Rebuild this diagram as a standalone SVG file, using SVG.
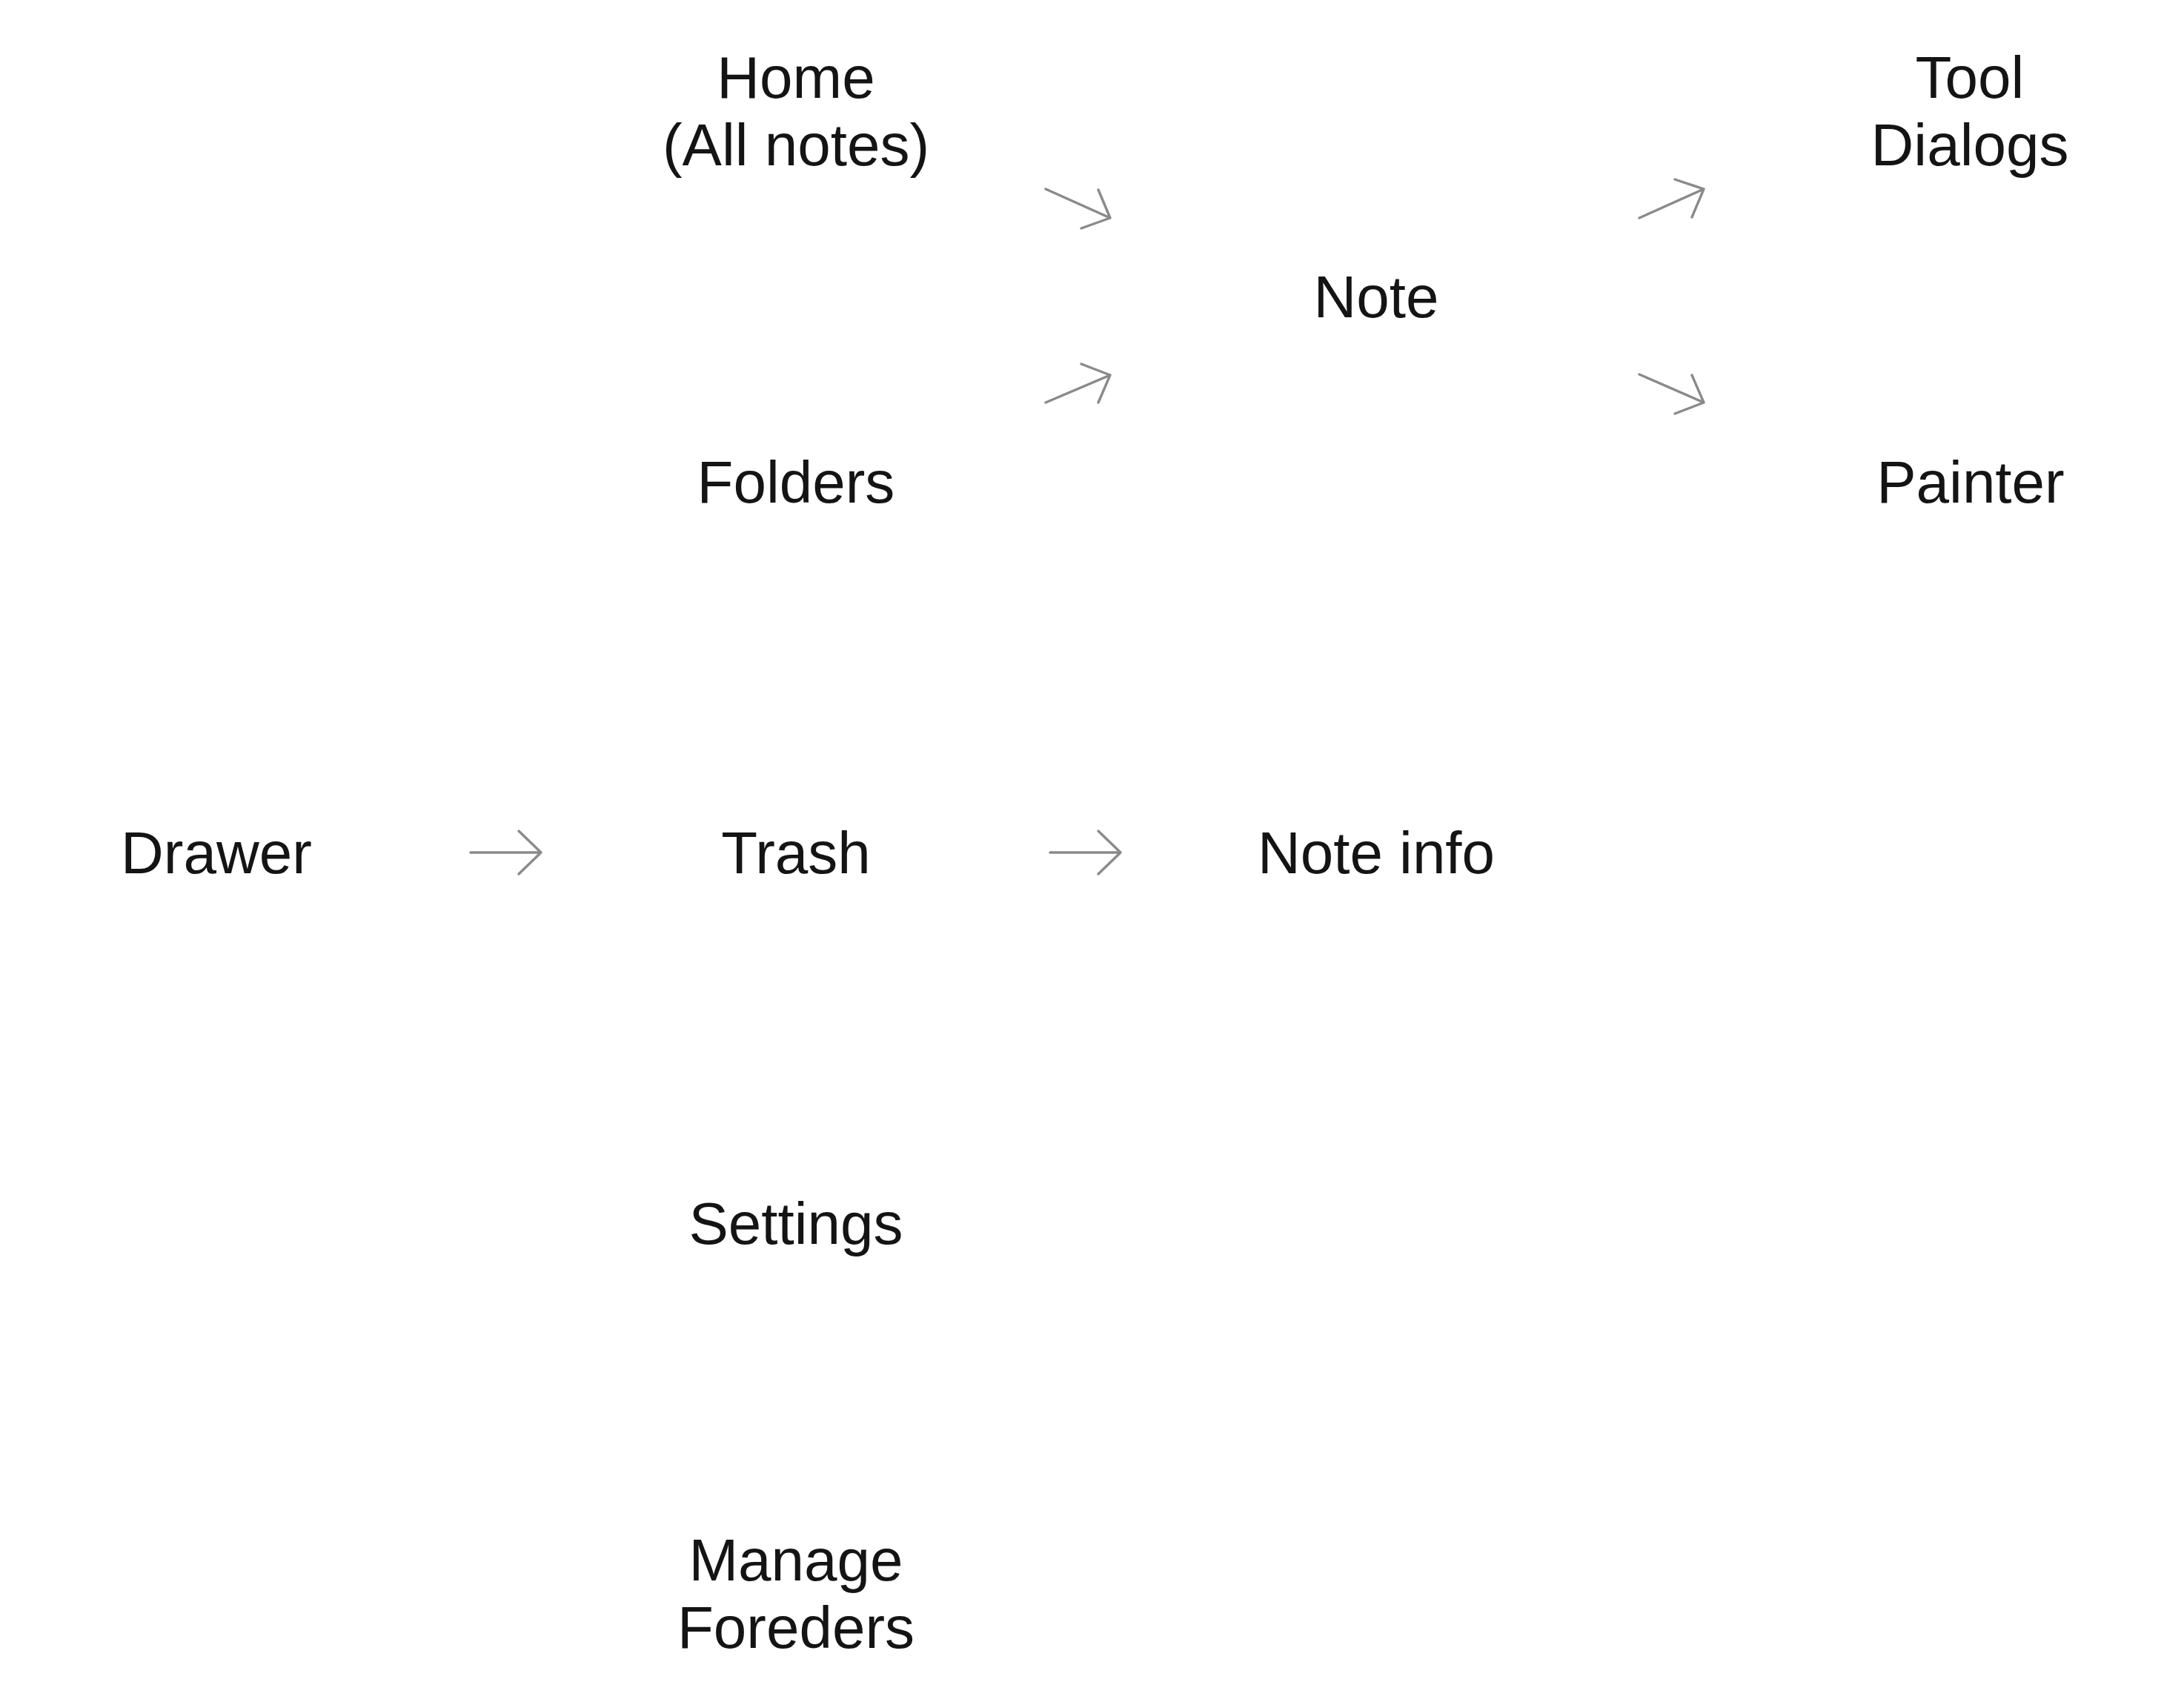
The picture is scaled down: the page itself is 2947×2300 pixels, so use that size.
<svg xmlns="http://www.w3.org/2000/svg" width="2947" height="2300" viewBox="0 0 2947 2300">
<style>
.lbl{font-family:"Liberation Sans",Arial,sans-serif;font-size:80px;fill:#141414;text-anchor:middle}
.c{fill:none;stroke:#8a8a8a;stroke-width:3.4;stroke-linecap:round;stroke-linejoin:round}
</style>
<rect width="2947" height="2300" fill="#ffffff"/>
<g id="home"><text class="lbl" x="1074" y="132">Home</text><text class="lbl" x="1074" y="223">(All notes)</text></g>
<g id="folders"><text class="lbl" x="1074" y="678">Folders</text></g>
<g id="trash"><text class="lbl" x="1074" y="1178">Trash</text></g>
<g id="settings"><text class="lbl" x="1074" y="1678">Settings</text></g>
<g id="manage-foreders"><text class="lbl" x="1074" y="2132">Manage</text><text class="lbl" x="1074" y="2223">Foreders</text></g>
<g id="drawer"><text class="lbl" x="292" y="1178">Drawer</text></g>
<g id="note"><text class="lbl" x="1857" y="428">Note</text></g>
<g id="note-info"><text class="lbl" x="1857" y="1178">Note info</text></g>
<g id="tool-dialogs"><text class="lbl" x="2658" y="132">Tool</text><text class="lbl" x="2658" y="223">Dialogs</text></g>
<g id="painter"><text class="lbl" x="2659" y="678">Painter</text></g>
<g id="connectors">
<path class="c" d="M1411,255 L1498,294 M1482,256 L1498,294 L1459,308"/>
<path class="c" d="M1411,543 L1498,506 M1459,491 L1498,506 L1482,543"/>
<path class="c" d="M2212,294 L2299,255 M2260,242 L2299,255 L2283,293"/>
<path class="c" d="M2212,505 L2299,543 M2283,506 L2299,543 L2260,558"/>
<path class="c" d="M635,1150 L730,1150 M700,1121 L730,1150 L700,1179"/>
<path class="c" d="M1417,1150 L1512,1150 M1482,1121 L1512,1150 L1482,1179"/>
</g>
</svg>
